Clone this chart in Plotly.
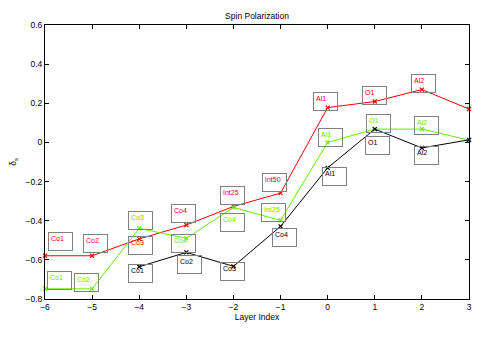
import plotly.graph_objects as go

layers = [-6, -5, -4, -3, -2, -1, 0, 1, 2, 3]

# spin polarization per layer
red_y = [-0.579, -0.579, -0.493, -0.422, -0.327, -0.259, 0.178, 0.209, 0.27, 0.171]
green_y = [-0.748, -0.748, -0.439, -0.49, -0.332, -0.398, 0.0, 0.068, 0.068, 0.012]
black_x = [-4, -3, -2, -1, 0, 1, 2, 3]
black_y = [-0.635, -0.562, -0.633, -0.429, -0.13, 0.068, -0.028, 0.013]

# text labels (the text() calls of the original)
red_labels = ['Co1', 'Co2', 'Co3', 'Co4', 'Int25', 'Int50', 'Al1', 'O1', 'Al2']
red_lx = [-5.67, -4.92, -3.97, -3.07, -2.01, -1.12, -0.04, 1.0, 2.04]
red_ly = [-0.505, -0.515, -0.527, -0.364, -0.269, -0.207, 0.211, 0.242, 0.30]

green_labels = ['Co1', 'Co2', 'Co3', 'Co4', 'Co4', 'Int25', 'Al1', 'O1', 'Al2']
green_lx = [-5.69, -5.11, -3.97, -3.07, -2.01, -1.14, 0.05, 1.07, 2.09]
green_ly = [-0.707, -0.718, -0.40, -0.516, -0.407, -0.36, 0.027, 0.096, 0.089]

black_labels = ['Co1', 'Co2', 'Co3', 'Co4', 'Al1', 'O1', 'Al2']
black_lx = [-3.97, -2.93, -2.01, -0.91, 0.14, 1.05, 2.09]
black_ly = [-0.669, -0.626, -0.659, -0.484, -0.172, -0.017, -0.066]

RED = '#ff0000'
GREEN = '#66ee00'
BLACK = '#000000'
FONT = 'Liberation Sans, Arial, sans-serif'

fig = go.Figure()

for xs, ys, c in [(layers, red_y, RED), (layers, green_y, GREEN), (black_x, black_y, BLACK)]:
    fig.add_trace(go.Scatter(
        x=xs, y=ys, mode='lines+markers',
        line=dict(color=c, width=1),
        marker=dict(symbol='x-thin', size=4, line=dict(color=c, width=1.2)),
        cliponaxis=False, showlegend=False,
    ))

anns = []
for labels, lx, ly, c in [(red_labels, red_lx, red_ly, RED),
                          (green_labels, green_lx, green_ly, GREEN),
                          (black_labels, black_lx, black_ly, BLACK)]:
    for t, x, y in zip(labels, lx, ly):
        anns.append(dict(
            x=x, y=y, xref='x', yref='y', text=t, showarrow=False,
            font=dict(family=FONT, size=7, color=c),
            width=19, height=13, align='left', valign='top',
            bordercolor='#808080', borderwidth=1, borderpad=2,
            xanchor='center', yanchor='middle',
        ))

axis_common = dict(
    showline=True, linecolor='black', linewidth=1, mirror='allticks',
    ticks='inside', ticklen=4, tickwidth=1, tickcolor='black',
    showgrid=False, zeroline=False, automargin=False,
    tickfont=dict(family=FONT, size=8.5, color='black'),
)

# page body adds an 8px offset, so margins are shifted to compensate
fig.update_layout(
    width=491, height=337,
    margin=dict(l=37, r=30, t=17, b=46, autoexpand=False),
    paper_bgcolor='white', plot_bgcolor='white',
    title=dict(text='Spin Polarization', x=249 / 491, xanchor='center',
               y=1 - 8 / 337, yanchor='middle', automargin=False,
               font=dict(family=FONT, size=8.5, color='black')),
    xaxis=dict(range=[-6, 3], tickvals=layers, **axis_common,
               title=dict(text='Layer Index', standoff=2,
                          font=dict(family=FONT, size=8.5, color='black'))),
    yaxis=dict(range=[-0.8, 0.6], tickvals=[-0.8, -0.6, -0.4, -0.2, 0, 0.2, 0.4, 0.6],
               ticktext=['−0.8', '−0.6', '−0.4', '−0.2', '0', '0.2', '0.4', '0.6'],
               **axis_common,
               title=dict(text='δ<sub>s</sub>', standoff=7,
                          font=dict(family=FONT, size=8.5, color='black'))),
    annotations=anns,
)

fig.write_html("out.html")
